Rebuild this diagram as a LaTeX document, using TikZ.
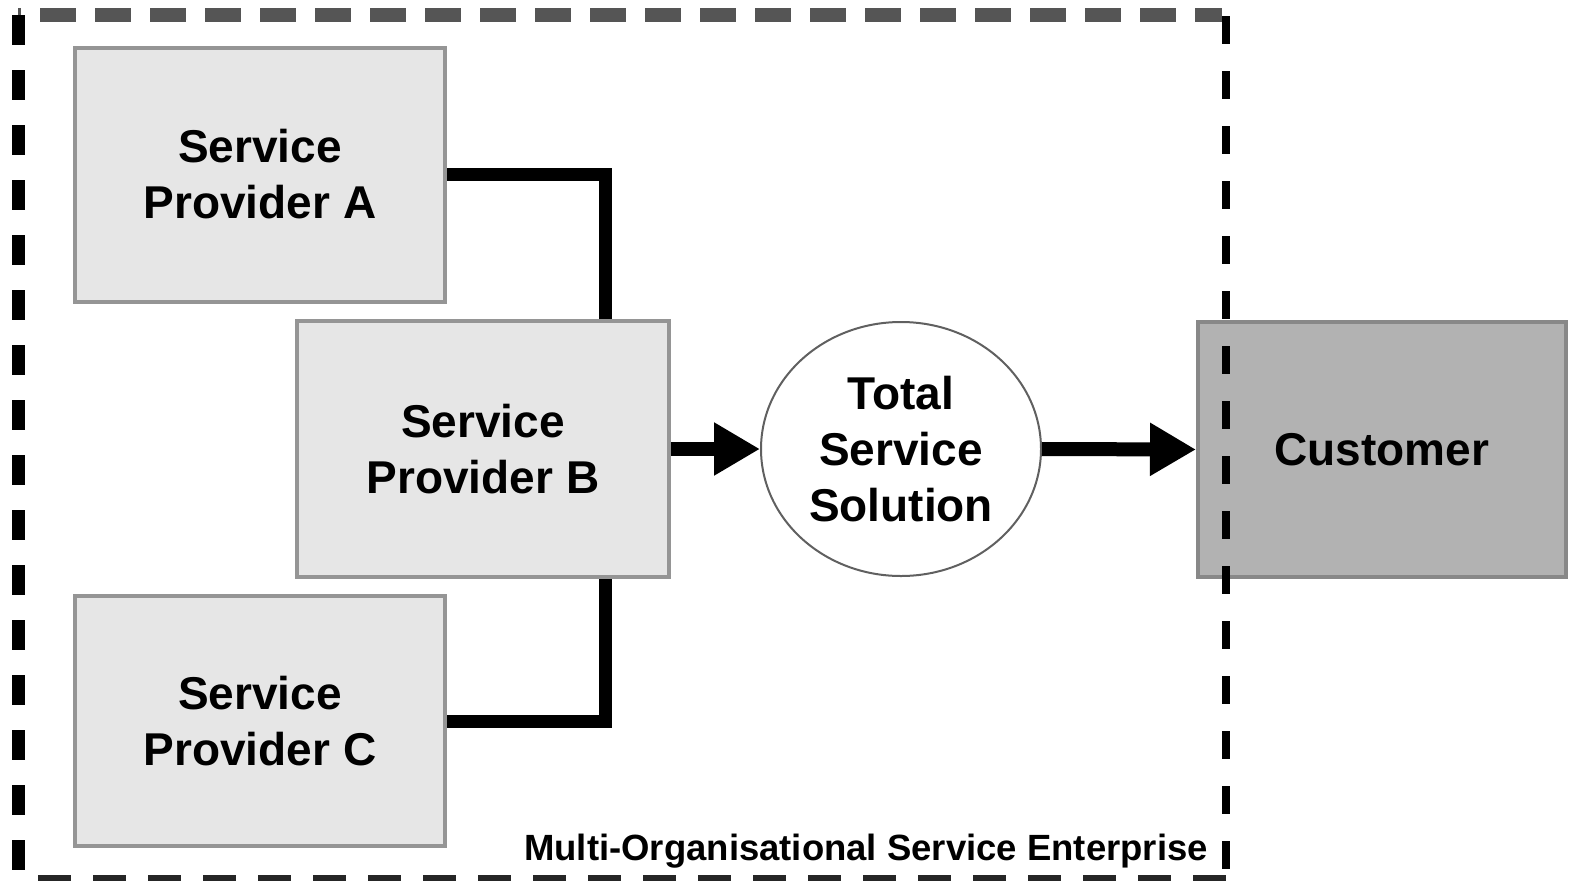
\documentclass[tikz,border=0pt]{standalone}
\usepackage{fontspec}
\setmainfont{Liberation Sans}
\usetikzlibrary{arrows.meta,shapes.geometric}
\definecolor{boxfill}{HTML}{E6E6E6}
\definecolor{boxline}{HTML}{959595}
\definecolor{custfill}{HTML}{B2B2B2}
\definecolor{custline}{HTML}{888888}
\definecolor{dashgray}{HTML}{555555}
\tikzset{
  provbox/.style={draw=boxline, line width=4pt, fill=boxfill, inner sep=0pt,
    minimum width=370pt, minimum height=254pt, align=center,
    font=\fontsize{46}{56}\selectfont\bfseries},
  custbox/.style={provbox, draw=custline, fill=custfill, minimum width=368pt},
  solbox/.style={ellipse, draw=gray!75!black, line width=2pt, fill=white, inner sep=0pt,
    minimum width=280pt, minimum height=254pt, align=center,
    font=\fontsize{46}{56}\selectfont\bfseries},
  conn/.style={line width=13pt, black},
  bigarrow/.style={line width=14pt, -{Triangle[length=46pt,width=50pt]}},
  framelbl/.style={anchor=base east, inner sep=0pt, font=\fontsize{36.5}{40}\selectfont\bfseries}
}
\begin{document}
\begin{tikzpicture}[x=1pt,y=-1pt]
\useasboundingbox (0,0) rectangle (1571,881);
% nodes
\node[provbox] (A) at (260,174.5) {Service\\Provider A};
\node[provbox, minimum width=372pt, minimum height=256pt] (B) at (483,449) {Service\\Provider B};
\node[provbox, minimum height=250pt] (C) at (260,721) {Service\\Provider C};
\node[solbox] (S) at (901,449) {Total\\Service\\Solution};
\node[custbox, minimum height=255pt] (K) at (1382,449.5) {Customer};
% connectors
\coordinate (jA) at (605,174.5);
\coordinate (jC) at (605,721);
\draw[conn, line cap=butt, line join=miter] (A.east) -- (jA) -- (jA |- B.north);
\draw[conn, line cap=butt, line join=miter] (C.east) -- (jC) -- (jC |- B.south);
\draw[bigarrow] (B.east) -- (S.west);
\draw[bigarrow] (S.east) -- (K.west);
% dashed frame
\coordinate (ftl) at (18,15);
\coordinate (ftr) at (1226,15);
\coordinate (fbl) at (18,878);
\coordinate (fbr) at (1226,878);
\draw[dashgray, line width=14pt, dash pattern=on 36pt off 19pt, dash phase=-22pt] (ftl) -- (1222,15);
\draw[black, line width=13pt, dash pattern=on 30pt off 25pt] (ftl) -- (fbl);
\draw[black, line width=8pt, dash pattern=on 28pt off 27pt] (1226,16) -- (fbr);
\draw[black!85, line width=6pt, dash pattern=on 33pt off 22pt, dash phase=-20pt] (fbl) -- (fbr);
\node[framelbl] (L) at (1208,860) {Multi-Organisational Service Enterprise};
\end{tikzpicture}
\end{document}
